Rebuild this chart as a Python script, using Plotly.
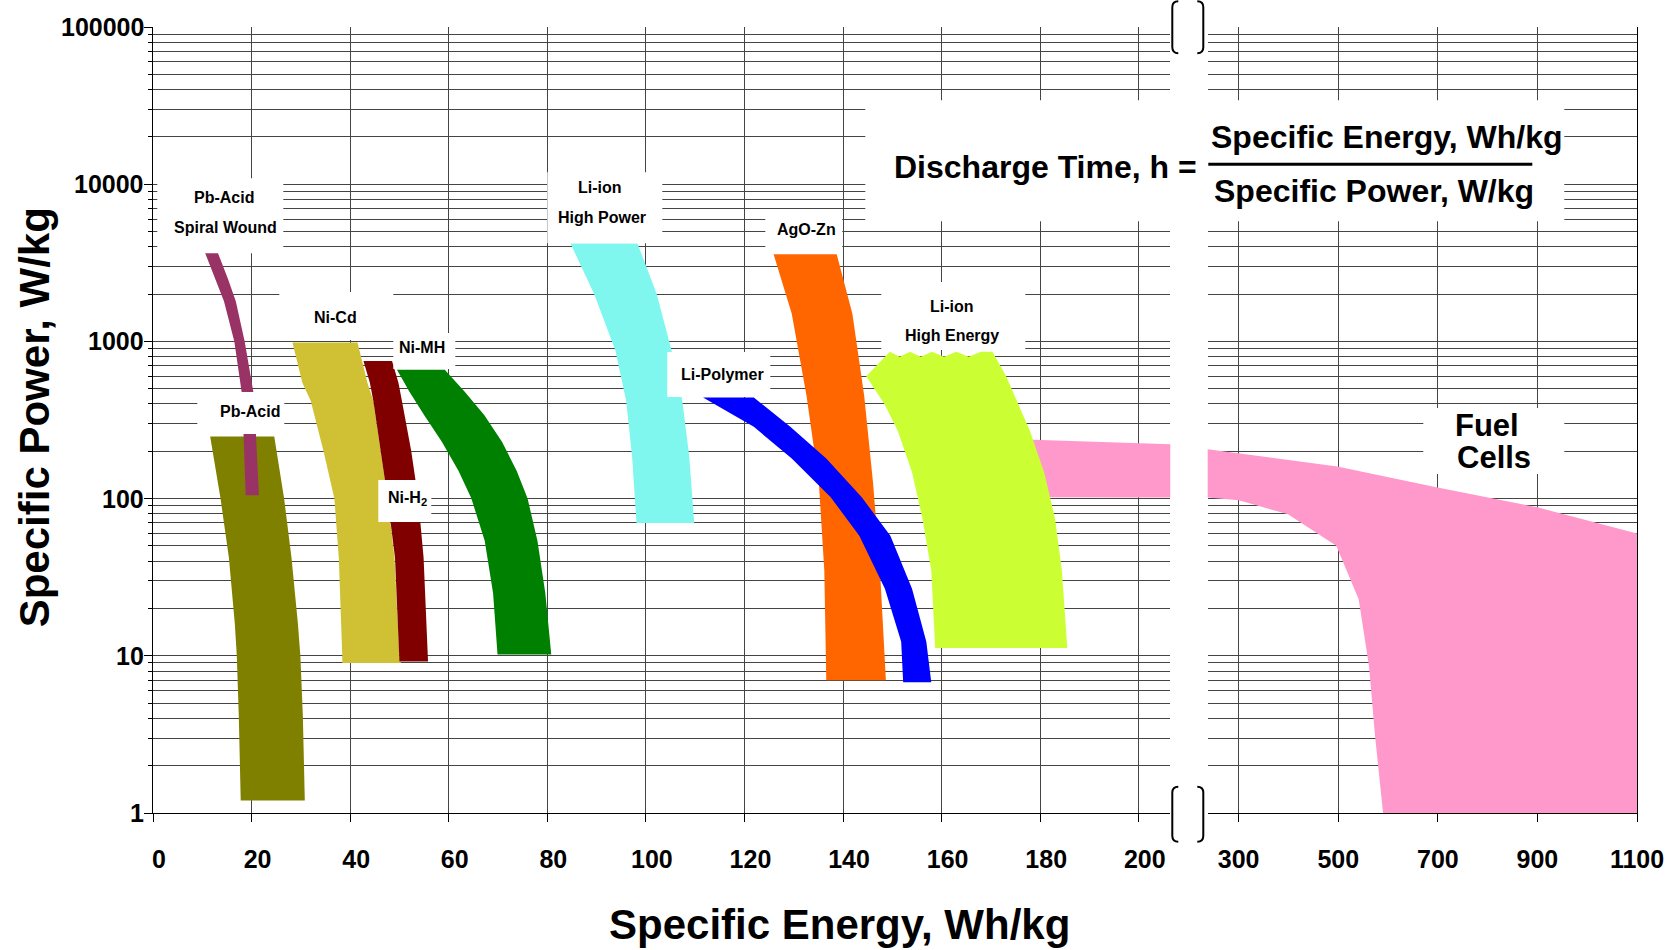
import math
import plotly.graph_objects as go

# ---------------- data (specific energy Wh/kg vs specific power W/kg) ----------------
# each band: power levels and left/right energy edges at those levels
pb_power = [248, 100, 42, 16, 10, 4.2, 1.2]
pb_left = [11.6, 13.7, 15.4, 16.6, 17.0, 17.4, 17.8]
pb_right = [24.6, 26.6, 28.1, 29.4, 29.9, 30.4, 30.8]

ps_power = [3700, 2500, 1800, 1000, 450, 105]
ps_left = [10.5, 12.6, 14.4, 16.5, 18.1, 18.8]
ps_right = [13.1, 15.2, 16.8, 18.6, 20.5, 21.5]

nicd_power = [985, 545, 420, 200, 100, 42, 10, 9]
nicd_left = [28.3, 30.3, 32.0, 34.6, 36.8, 37.7, 38.4, 38.4]
nicd_right = [41.5, 43.5, 44.7, 46.2, 47.6, 49.0, 50.0, 50.3]

nih2_power = [750, 545, 420, 200, 100, 42, 9.2]
nih2_left = [42.7, 44.0, 44.7, 46.2, 47.6, 49.1, 50.0]
nih2_right = [48.5, 49.8, 50.5, 52.4, 53.8, 54.9, 55.8]

nimh_power = [661, 480, 340, 230, 150, 100, 54, 25, 10.2]
nimh_left = [49.5, 52.0, 55.0, 58.6, 62.0, 64.6, 67.3, 69.0, 69.9]
nimh_right = [59.2, 63.2, 67.2, 70.8, 73.8, 76.0, 78.0, 79.6, 80.8]

lihp_power = [4200, 2000, 880, 420, 185, 70]
lihp_left = [84.7, 89.5, 93.8, 96.0, 97.2, 98.1]
lihp_right = [98.3, 102.2, 105.2, 107.4, 108.8, 109.8]

agozn_power = [3600, 1500, 450, 125, 35, 7]
agozn_left = [125.9, 129.6, 132.6, 135.1, 136.2, 136.6]
agozn_right = [138.7, 141.9, 144.3, 146.1, 147.5, 148.7]

lipol_power = [440, 286, 180, 102, 58, 26.7, 12.3, 6.8]
lipol_left = [111.6, 121.9, 129.6, 137.5, 143.3, 148.5, 151.8, 152.2]
lipol_right = [121.9, 129.3, 136.6, 143.8, 149.6, 154.0, 156.9, 157.9]

lihe_power = [860, 600, 400, 270, 147, 75, 35, 11.2]
lihe_left = [149.5, 144.7, 148.4, 151.1, 154.0, 156.1, 157.9, 158.7]
lihe_right = [170.3, 173.1, 175.6, 177.9, 180.8, 183.0, 184.4, 185.5]
lihe_top_e = [149.5, 151.5, 153.6, 155.8, 158.0, 160.5, 163.0, 165.5, 168.0, 170.3]
lihe_top_p = [860, 800, 860, 800, 860, 800, 860, 800, 860, 860]

fc_top_e = [177, 238, 498, 697, 900, 1100]
fc_top_p = [238, 206, 160, 118, 88, 60]
fc_bot_e = [177, 238, 300, 399, 496, 541, 562, 574, 590, 1100]
fc_bot_p = [102, 101.6, 97.5, 79.5, 50.2, 22.9, 8.5, 3.07, 1, 1]

left_ticks = [0, 20, 40, 60, 80, 100, 120, 140, 160, 180, 200]
right_ticks = [300, 500, 700, 900, 1100]
y_major = [1, 10, 100, 1000, 10000, 100000]
y_major_text = ["1", "10", "100", "1000", "10000", "100000"]
y_minor = [m * 10 ** k for k in range(5) for m in range(2, 10)]

# ---------------- layout constants (page pixels) ----------------
W, H = 1671, 950
PLOT_L, PLOT_R, PLOT_T, PLOT_B = 152.7, 1636.7, 26.7, 813.3
ML, MT = PLOT_L, PLOT_T
MR, MB = W - PLOT_R, H - PLOT_B
PW = PLOT_R - PLOT_L
PH = PLOT_B - PLOT_T
FONT = "Liberation Sans, Arial, sans-serif"
GRID = "#444444"


def px(xf):
    return (xf - PLOT_L) / PW


def py(yf):
    return (PLOT_B - yf) / PH


def band(left, right, power):
    xs = list(left) + list(right)[::-1] + [left[0]]
    ys = list(power) + list(power)[::-1] + [power[0]]
    return xs, ys


fig = go.Figure()


def add_band(xs, ys, color, xa="x", ya="y"):
    fig.add_trace(go.Scatter(x=xs, y=ys, mode="lines", fill="toself", fillcolor=color,
                             line=dict(width=0, color=color), hoverinfo="skip",
                             showlegend=False, xaxis=xa, yaxis=ya))


add_band(*band(pb_left, pb_right, pb_power), "#808000")
add_band(*band(ps_left, ps_right, ps_power), "#993366")
add_band(*band(nicd_left, nicd_right, nicd_power), "#CFC133")
add_band(*band(nih2_left, nih2_right, nih2_power), "#800000")
add_band(*band(nimh_left, nimh_right, nimh_power), "#008000")
add_band(*band(lihp_left, lihp_right, lihp_power), "#7FF7EF")
add_band(*band(agozn_left, agozn_right, agozn_power), "#FF6600")
add_band(*band(lipol_left, lipol_right, lipol_power), "#0000FF")

fc_x = fc_top_e + fc_bot_e[::-1] + [fc_top_e[0]]
fc_y = fc_top_p + fc_bot_p[::-1] + [fc_top_p[0]]
add_band(fc_x, fc_y, "#FF99CC", "x", "y")
add_band(fc_x, fc_y, "#FF99CC", "x2", "y2")

lihe_x = lihe_top_e + lihe_right[1:] + lihe_left[::-1]
lihe_y = lihe_top_p + lihe_power[1:] + lihe_power[::-1]
add_band(lihe_x, lihe_y, "#CCFF33")

tickfont = dict(family=FONT, size=25, color="black", weight="bold")
xcommon = dict(showgrid=True, gridcolor=GRID, gridwidth=1, zeroline=False,
               showline=True, linecolor="black", linewidth=1,
               ticks="outside", ticklen=8, tickcolor="black",
               tickfont=tickfont, ticklabelstandoff=16, tickmode="array")

fig.update_layout(
    width=W, height=H,
    margin=dict(l=ML, r=MR, t=MT, b=MB, autoexpand=False),
    paper_bgcolor="white", plot_bgcolor="white",
    hovermode=False, showlegend=False,
    xaxis=dict(domain=[0, px(1170)], range=[0, 206.4], tickvals=left_ticks,
               ticklabelshift=6, anchor="y", **xcommon),
    xaxis2=dict(domain=[px(1207.4), 1], range=[237.8, 1100], tickvals=right_ticks,
                anchor="y2", **xcommon),
    yaxis=dict(type="log", range=[0, 5], domain=[0, 1], anchor="x",
               tickmode="array", tickvals=y_major, showticklabels=False,
               showgrid=True, gridcolor=GRID, gridwidth=1, zeroline=False,
               showline=True, linecolor="black", linewidth=1,
               ticks="outside", ticklen=8, tickcolor="black",
               minor=dict(tickvals=y_minor, showgrid=True, gridcolor=GRID,
                          gridwidth=1, ticks="outside", ticklen=4, tickcolor="black")),
    yaxis2=dict(type="log", matches="y", domain=[0, 1], anchor="x2", side="right",
                tickmode="array", tickvals=y_major, showticklabels=False,
                showgrid=True, gridcolor=GRID, gridwidth=1, zeroline=False,
                showline=True, linecolor="black", linewidth=1, ticks="",
                minor=dict(tickvals=y_minor, showgrid=True, gridcolor=GRID,
                           gridwidth=1, ticks="")),
)

shapes = []
# white label boxes (x0, x1, y0, y1 in page pixels)
boxes = [
    (157, 283, 178, 253), (197, 284, 392, 434), (279, 393, 292, 340),
    (393, 455, 333, 369), (378, 431, 480, 522), (547, 662, 172, 243),
    (765, 842, 212, 254), (667, 770, 352, 397), (881, 1025, 282, 350),
    (1423, 1564, 408, 474), (865, 1564, 100, 221),
]
for x0, x1, y0, y1 in boxes:
    shapes.append(dict(type="rect", xref="paper", yref="paper", layer="above",
                       x0=px(x0), x1=px(x1), y0=py(y1), y1=py(y0),
                       fillcolor="white", line=dict(width=0)))
# fraction bar
shapes.append(dict(type="line", xref="paper", yref="paper", layer="above",
                   x0=px(1208), x1=px(1532), y0=py(164), y1=py(164),
                   line=dict(color="black", width=3)))


# axis-break brackets
def bracket(xo, xi, y0, y1, r=6):
    return (f"M {px(xi)},{py(y0)} Q {px(xo)},{py(y0)} {px(xo)},{py(y0 + r)} "
            f"L {px(xo)},{py(y1 - r)} Q {px(xo)},{py(y1)} {px(xi)},{py(y1)}")


for (ya, yb) in [(1, 53), (787, 842)]:
    for (xo, xi) in [(1172, 1178), (1203, 1197)]:
        shapes.append(dict(type="path", xref="paper", yref="paper", layer="above",
                           path=bracket(xo, xi, ya, yb),
                           line=dict(color="black", width=2)))
fig.update_layout(shapes=shapes)

annotations = []

# y tick labels (placed next to the axis)
for v, t in zip(y_major, y_major_text):
    annotations.append(dict(text=t, xref="paper", yref="y", x=px(146), y=math.log10(v),
                            xanchor="right", yanchor="middle", showarrow=False,
                            font=tickfont))


def label(text, x, y, size=16, xanchor="center"):
    annotations.append(dict(text=text, xref="paper", yref="paper", x=px(x), y=py(y),
                            xanchor=xanchor, yanchor="middle", showarrow=False,
                            font=dict(family=FONT, size=size, color="black", weight="bold")))


label("Pb-Acid", 224, 197)
label("Spiral Wound", 225, 227)
label("Pb-Acid", 250, 411)
label("Ni-Cd", 335, 317)
label("Ni-MH", 422, 347)
label("Ni-H<sub>2</sub>", 407, 499)
label("Li-ion", 600, 187)
label("High Power", 602, 217)
label("AgO-Zn", 806, 229)
label("Li-Polymer", 722, 374)
label("Li-ion", 952, 306)
label("High Energy", 952, 335)
label("Fuel", 1487, 426, size=31)
label("Cells", 1494, 458, size=31)
label("Discharge Time, h =", 1199, 167, size=32, xanchor="right")
label("Specific Energy, Wh/kg", 1386, 137, size=32)
label("Specific Power, W/kg", 1374, 191, size=32)
label("Specific Energy, Wh/kg", 839, 925, size=42)
annotations.append(dict(text="Specific Power, W/kg", xref="paper", yref="paper",
                        x=px(34), y=py(417), textangle=-90, showarrow=False,
                        xanchor="center", yanchor="middle",
                        font=dict(family=FONT, size=42, color="black", weight="bold")))
fig.update_layout(annotations=annotations)

fig.write_html("out.html", config={"responsive": False, "displayModeBar": False},
               post_script="document.body.style.margin='0';document.body.style.overflow='hidden';")
